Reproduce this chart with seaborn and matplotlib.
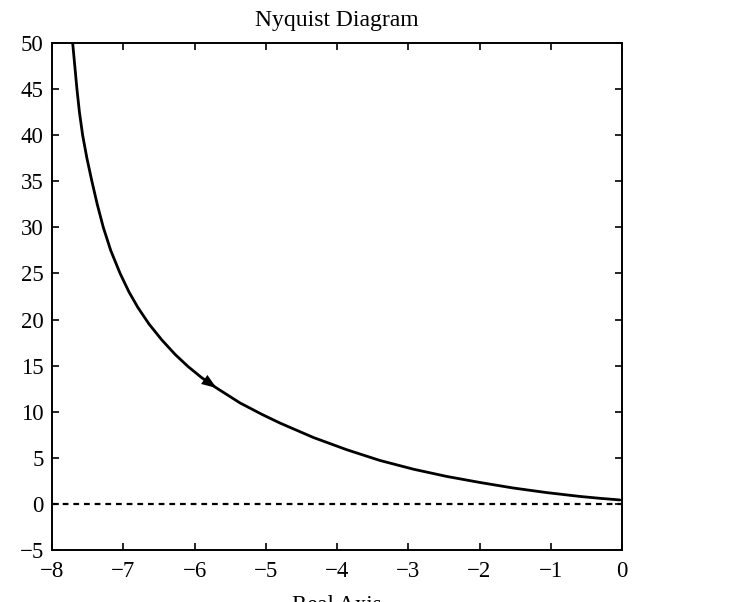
import matplotlib
matplotlib.use("Agg")
import matplotlib.pyplot as plt
import seaborn as sns
import pandas as pd

# Nyquist curve points
real_part = [-7.71, -7.68, -7.65, -7.615, -7.57, -7.51, -7.44, -7.365, -7.28,
             -7.176, -7.044, -6.92, -6.794, -6.637, -6.46, -6.27, -6.09, -5.90,
             -5.69, -5.36, -5.05, -4.80, -4.33, -3.86, -3.40, -2.93, -2.46,
             -1.99, -1.53, -1.06, -0.59, -0.30, -0.03]
imag_part = [50.0, 47.5, 45.0, 42.5, 40.0, 37.5, 35.0, 32.5, 30.0,
             27.5, 25.0, 23.0, 21.3, 19.5, 17.8, 16.2, 14.9, 13.7,
             12.57, 10.95, 9.7, 8.77, 7.2, 5.87, 4.72, 3.77, 2.98,
             2.32, 1.73, 1.23, 0.81, 0.60, 0.43]
arrow_index = 18

x_ticks = [-8, -7, -6, -5, -4, -3, -2, -1, 0]
y_ticks = [-5, 0, 5, 10, 15, 20, 25, 30, 35, 40, 45, 50]

title = "Nyquist Diagram"
x_label = "Real Axis"

sns.set_theme(style="white")
plt.rcParams["font.family"] = ["Liberation Serif", "DejaVu Serif"]

df = pd.DataFrame({"re": real_part, "im": imag_part})

fig = plt.figure(figsize=(7.55, 6.02), dpi=100)
ax = fig.add_axes([52 / 755, 1 - 550 / 602, (622 - 52) / 755, (550 - 43) / 602])

ax.axhline(0, color="black", lw=1.6, ls=(0, (2.6, 2.2)), zorder=1)
sns.lineplot(data=df, x="re", y="im", sort=False, estimator=None,
             color="black", lw=2.0, ax=ax, zorder=2)
ax.lines[-1].set_solid_joinstyle("round")

# direction arrow on the curve
i = arrow_index
ax.annotate("", xy=(real_part[i], imag_part[i]),
            xytext=(real_part[i - 1], imag_part[i - 1]),
            arrowprops=dict(arrowstyle="-|>,head_length=0.9,head_width=0.33",
                            color="black", lw=0, shrinkA=0, shrinkB=0),
            zorder=3)

ax.set_xlim(-8, 0)
ax.set_ylim(-5, 50)
ax.set_xticks(x_ticks)
ax.set_yticks(y_ticks)
ax.set_xticklabels([str(t).replace("-", "\u2212") for t in x_ticks])
ax.set_yticklabels([str(t).replace("-", "\u2212") for t in y_ticks])

for s in ax.spines.values():
    s.set_visible(True)
    s.set_color("black")
    s.set_linewidth(1.4)

ax.tick_params(axis="both", which="major", direction="in", length=5, width=1.2,
               top=True, right=True, bottom=True, left=True,
               labelsize=16.5, colors="black", pad=6)
ax.tick_params(axis="x", pad=8)

ax.set_title(title, fontsize=17, color="black", pad=12)
ax.set_xlabel(x_label, fontsize=16.5, color="black", labelpad=9)
ax.set_ylabel("")
ax.grid(False)

fig.savefig("out.png", dpi=100, facecolor="white")
